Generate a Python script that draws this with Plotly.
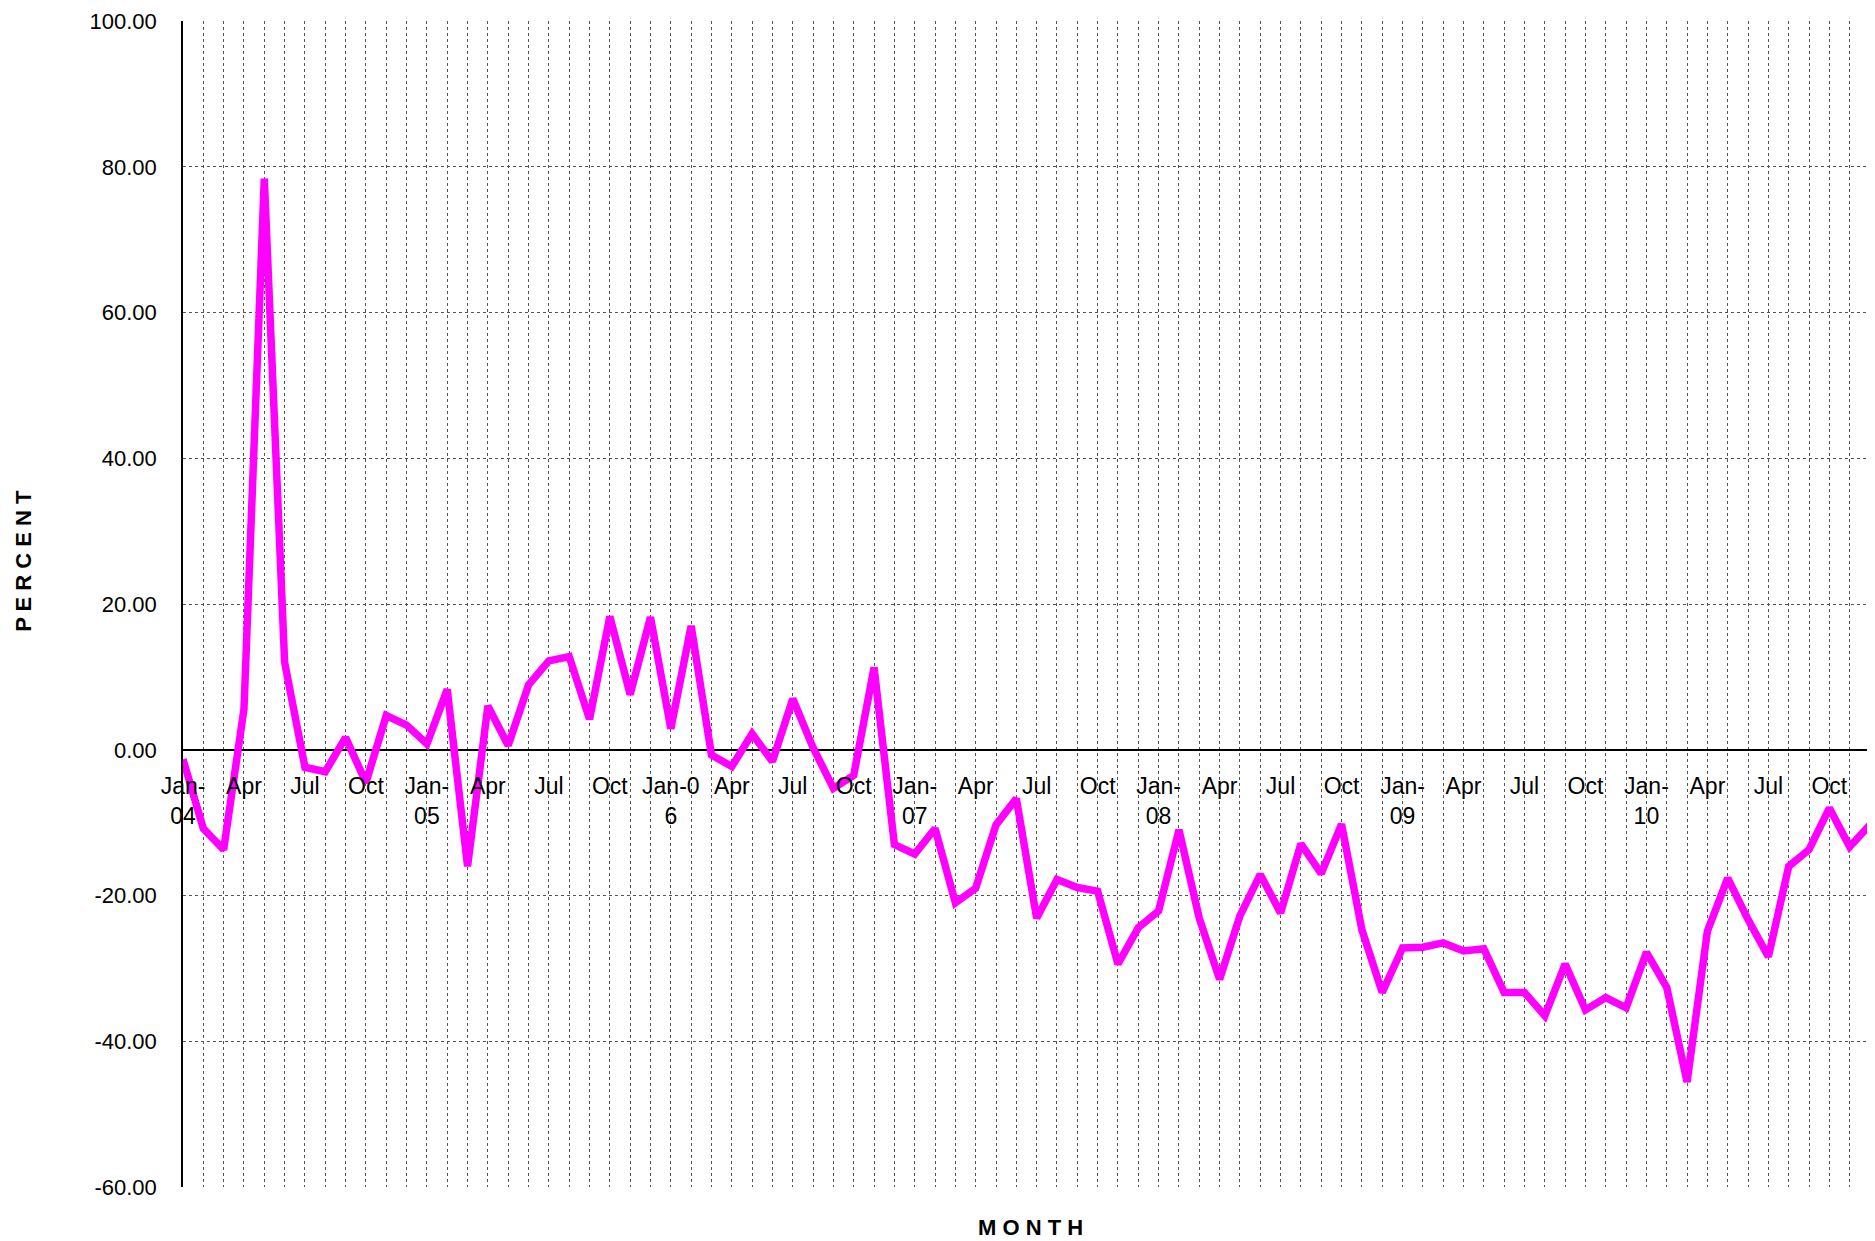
import plotly.graph_objects as go

month_names = ["Jan", "Feb", "Mar", "Apr", "May", "Jun",
               "Jul", "Aug", "Sep", "Oct", "Nov", "Dec"]
years = ["04", "05", "06", "07", "08", "09", "10"]
months = [f"{m}-{y}" for y in years for m in month_names]

percent = [
    -1.3, -10.8, -13.7, 5.6, 78.4, 12.0, -2.4, -3.0, 1.7, -4.5, 4.7, 3.4,
    0.8, 8.3, -16.0, 6.0, 0.6, 8.9, 12.2, 12.8, 4.2, 18.3, 7.6, 18.2,
    2.9, 17.0, -0.7, -2.3, 2.2, -1.6, 7.0, 0.3, -5.3, -3.5, 11.3, -13.0,
    -14.3, -10.8, -21.0, -19.0, -10.3, -6.7, -23.1, -17.8, -18.9, -19.4, -29.4, -24.4,
    -22.1, -11.0, -23.1, -31.5, -22.8, -17.1, -22.4, -12.9, -17.0, -10.2, -24.7, -33.3,
    -27.2, -27.1, -26.5, -27.6, -27.3, -33.3, -33.3, -36.5, -29.4, -35.7, -34.0, -35.4,
    -27.8, -32.6, -45.6, -24.9, -17.6, -23.3, -28.4, -16.0, -13.7, -8.0, -13.3, -10.3,
]

quarter_labels = [
    "Jan-<br>04", "Apr", "Jul", "Oct",
    "Jan-<br>05", "Apr", "Jul", "Oct",
    "Jan-0<br>6", "Apr", "Jul", "Oct",
    "Jan-<br>07", "Apr", "Jul", "Oct",
    "Jan-<br>08", "Apr", "Jul", "Oct",
    "Jan-<br>09", "Apr", "Jul", "Oct",
    "Jan-<br>10", "Apr", "Jul", "Oct",
]

y_ticks = [-60, -40, -20, 0, 20, 40, 60, 80, 100]
y_ticktext = ["-60.00", "-40.00", "-20.00", "0.00", "20.00",
              "40.00", "60.00", "80.00", "100.00"]

x_ticktext = []
for i, m in enumerate(months):
    x_ticktext.append(quarter_labels[i // 3] if i % 3 == 0 else "")

FONT = "Liberation Sans, Arial, sans-serif"

fig = go.Figure()
fig.add_trace(go.Scatter(
    x=months, y=percent, mode="lines",
    line=dict(color="#FF00FF", width=7.5),
    showlegend=False, hoverinfo="x+y",
))

# page body has an 8px default margin, so the figure is sized to fit the window
fig.update_layout(
    width=1867, height=1233,
    margin=dict(l=175, r=5, t=13, b=54),
    paper_bgcolor="white", plot_bgcolor="white",
    font=dict(family=FONT, size=23, color="black"),
    xaxis=dict(
        type="category",
        categoryorder="array", categoryarray=months,
        range=[0, len(months) - 1],
        tickmode="array", tickvals=months, ticktext=x_ticktext,
        showgrid=True, gridcolor="#555555", gridwidth=1, griddash="dot",
        anchor="free", position=0.375,
        showline=False, ticks="", ticklabelstandoff=20,
        tickangle=0, automargin=False,
        tickfont=dict(family=FONT, size=23, color="black"),
        zeroline=False,
    ),
    yaxis=dict(
        range=[-60, 100.02],
        tickmode="array", tickvals=y_ticks, ticktext=y_ticktext,
        showgrid=True, gridcolor="#555555", gridwidth=1, griddash="dot",
        zeroline=True, zerolinecolor="black", zerolinewidth=1.5,
        showline=True, linecolor="black", linewidth=1.5,
        ticks="", ticklabelstandoff=20, ticklabeloverflow="allow",
        automargin=False,
        tickfont=dict(family=FONT, size=22, color="black"),
    ),
    annotations=[
        dict(text="<b>P E R C E N T</b>", xref="paper", yref="paper",
             x=0, y=0.537, xshift=-159, textangle=-90,
             xanchor="center", yanchor="middle", showarrow=False,
             font=dict(family=FONT, size=22, color="black")),
        dict(text="<b>M O N T H</b>", xref="paper", yref="paper",
             x=0.5024, y=0, yshift=-40,
             xanchor="center", yanchor="middle", showarrow=False,
             font=dict(family=FONT, size=22, color="black")),
    ],
)

fig.write_html("out.html")
